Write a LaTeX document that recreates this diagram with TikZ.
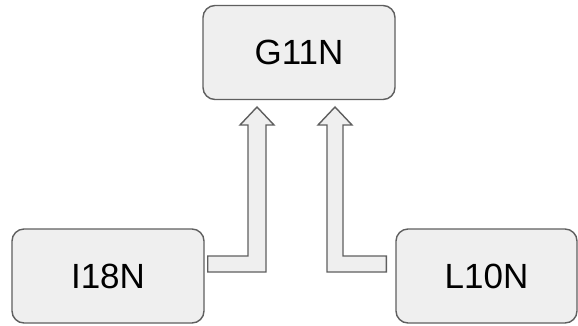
\documentclass[tikz,border=0pt]{standalone}
\usepackage{fontspec}
\setmainfont{Liberation Sans}
\usetikzlibrary{calc}
\definecolor{boxfill}{HTML}{EFEFEF}
\definecolor{boxline}{HTML}{5F5F5F}
\tikzset{
  box/.style={draw=boxline, fill=boxfill, line width=1.4bp, rounded corners=12bp,
    minimum width=#1, minimum height=94bp, inner sep=0pt, font=\fontsize{35bp}{40bp}\selectfont},
  box/.default=192bp,
  blockarrow/.style={draw=boxline, fill=boxfill, line width=1.4bp, line join=miter}
}
\begin{document}
\begin{tikzpicture}[x=1bp, y=-1bp]
\useasboundingbox (0,0) rectangle (578,325);
\node[box] (g11n) at (299,52.5) {G11N};
\node[box] (i18n) at (108,276) {I18N};
\node[box=181bp] (l10n) at (486.5,276) {L10N};
% left block arrow: from I18N up into G11N
\coordinate (la) at ($(i18n.east)+(3,-20)$);
\coordinate (ltip) at (257,107);
\draw[blockarrow] (la) -- (248,256) -- (248,125) -- (240,125) -- (ltip)
  -- (274,125) -- (266,125) -- (266,272) -- ($(la)+(0,16)$) -- cycle;
% right block arrow: from L10N up into G11N
\coordinate (ra) at ($(l10n.west)+(-9,-20)$);
\coordinate (rtip) at (335,107);
\draw[blockarrow] (ra) -- (343,256) -- (343,125) -- (352,125) -- (rtip)
  -- (318,125) -- (327,125) -- (327,272) -- ($(ra)+(0,16)$) -- cycle;
\end{tikzpicture}
\end{document}
